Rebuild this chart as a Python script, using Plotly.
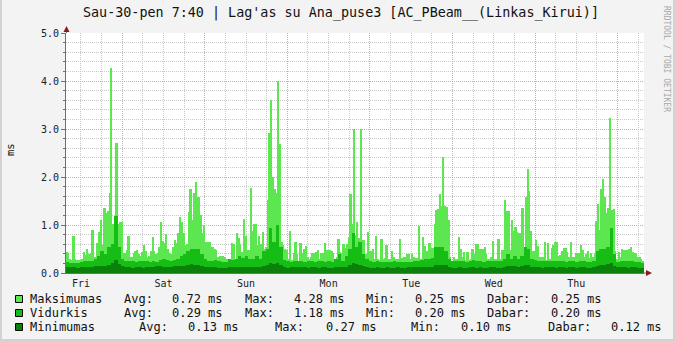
import numpy as np
import plotly.graph_objects as go

# ---------------- data ----------------
START_HOUR = 7 + 40 / 60          # graph starts Fri 07:40, one week span
SPAN_H = 168
days = ["Fri", "Sat", "Sun", "Mon", "Tue", "Wed", "Thu"]

MAX_STEP = 0.5   # hours per Maksimumas sample
HR_STEP = 1.0    # hours per Vidurkis / Minimumas sample

maksimumas = [
    0.44, 0.41, 0.30, 0.28, 0.77, 0.30, 0.27, 0.27, 0.28, 0.30,
    0.43, 0.37, 0.50, 0.40, 0.41, 0.90, 0.34, 0.33, 0.63, 0.86,
    1.10, 0.58, 1.35, 1.24, 1.30, 1.66, 4.28, 1.03, 1.03, 2.70,
    1.03, 1.07, 1.07, 0.41, 0.41, 0.48, 0.77, 0.34, 0.33, 0.41,
    0.45, 0.48, 0.40, 0.36, 0.44, 0.58, 0.45, 0.34, 0.35, 0.45,
    0.76, 0.45, 0.40, 0.41, 0.55, 1.07, 0.66, 0.62, 0.81, 0.50,
    0.41, 0.40, 0.55, 0.69, 0.63, 0.83, 1.17, 1.07, 0.83, 0.58,
    0.60, 1.28, 1.76, 1.10, 1.66, 1.90, 1.59, 1.59, 1.20, 0.83,
    1.00, 0.65, 0.65, 0.65, 0.55,
    0.55, 0.50, 0.48, 0.34, 0.36, 0.36, 0.36, 0.33, 0.29, 0.28,
    0.28, 0.63, 0.60, 0.30, 0.83, 0.72, 0.60, 0.44, 1.12, 0.78,
    0.47, 0.47, 1.78, 0.88, 1.03, 1.03, 0.58, 0.78, 0.60, 0.86,
    0.50, 0.55, 1.52, 2.91, 3.60, 2.00, 1.76, 1.67, 4.00, 2.69,
    0.65, 0.58, 0.50, 0.47, 0.29, 0.87, 0.28, 0.41, 0.65, 0.40,
    0.25, 0.63, 0.41, 0.51, 0.56, 0.34, 0.29, 0.33, 0.41, 0.41,
    0.44, 0.48, 0.29, 0.41, 0.41, 0.62, 0.47, 0.47, 0.47, 0.45,
    0.41, 0.29, 0.34, 0.71, 0.43, 0.41, 0.60, 0.53, 0.60, 0.76,
    1.64, 1.03, 3.00,
    0.79, 1.06, 0.72, 3.01, 0.69, 0.69, 0.40, 0.85, 0.45, 0.45,
    0.50, 0.30, 0.78, 0.29, 0.28, 0.71, 0.30, 0.31, 0.58, 0.29,
    0.30, 0.46, 0.34, 0.30, 0.29, 0.29, 0.71, 0.32, 0.33, 0.33,
    0.40, 0.40, 0.29, 0.40, 0.33, 0.31, 0.31, 0.97, 0.30, 0.76,
    0.56, 0.45, 0.45, 0.62, 0.53, 0.53, 1.03, 1.31, 1.33, 1.65,
    1.40, 2.42, 1.40, 1.38, 1.10, 0.34, 0.25, 0.34, 0.30, 0.30,
    0.76, 0.51, 0.34, 0.43, 0.27, 0.44, 0.27, 0.30, 0.51, 0.40,
    0.60, 0.60, 0.50, 0.50, 0.51, 0.55, 0.40, 0.30, 0.30, 0.34,
    0.67, 0.29, 0.29, 0.71,
    0.30, 0.48, 0.48, 1.52, 1.29, 1.29, 0.48, 1.10, 0.87, 0.95,
    0.86, 0.83, 0.83, 1.36, 0.55, 1.59, 2.17, 1.71, 0.88, 0.46,
    0.46, 0.69, 0.56, 0.34, 0.34, 0.33, 0.65, 0.27, 0.62, 0.30,
    0.53, 0.58, 0.65, 0.65, 0.36, 0.37, 0.46, 0.53, 0.53, 0.44,
    0.34, 0.65, 0.34, 0.34, 0.42, 0.41, 0.42, 0.58, 0.48, 0.34,
    0.40, 0.45, 0.31, 0.41, 0.33, 0.41, 1.08, 1.43, 0.90, 1.75,
    1.96, 1.59, 1.26, 1.36, 3.22, 1.31, 1.33, 0.45, 0.29, 0.44,
    0.34, 0.49, 0.48, 0.48, 0.48, 0.50, 0.55, 0.44, 0.42, 0.42,
    0.34, 0.34, 0.30, 0.25,
]

vidurkis = [
    0.22, 0.20, 0.20, 0.20, 0.22, 0.24, 0.25, 0.24, 0.30, 0.35,
    0.45, 0.40, 0.55, 0.60, 1.18, 0.55, 0.30, 0.25, 0.25, 0.24,
    0.22, 0.24, 0.25, 0.24, 0.22, 0.24, 0.22, 0.28, 0.30, 0.28,
    0.25, 0.28, 0.30, 0.35, 0.40, 0.45, 0.50, 0.50, 0.50, 0.40,
    0.30, 0.25,
    0.26, 0.27, 0.24, 0.22, 0.22, 0.30, 0.28, 0.30, 0.35, 0.32,
    0.35, 0.30, 0.30, 0.35, 0.30, 0.45, 0.50, 0.93, 0.65, 1.00,
    0.55, 0.28, 0.25, 0.22, 0.25, 0.25, 0.24, 0.22, 0.25, 0.24,
    0.22, 0.24, 0.25, 0.22, 0.25, 0.22, 0.30, 0.40, 0.25, 0.35,
    0.50, 0.83,
    0.55, 0.65, 0.40, 0.30, 0.25, 0.22, 0.24, 0.22, 0.22, 0.22,
    0.22, 0.24, 0.22, 0.22, 0.22, 0.22, 0.22, 0.25, 0.25, 0.28,
    0.30, 0.30, 0.32, 0.55, 0.55, 0.55, 0.45, 0.30, 0.24, 0.25,
    0.26, 0.24, 0.22, 0.25, 0.28, 0.25, 0.24, 0.22, 0.24, 0.24,
    0.25, 0.24,
    0.24, 0.30, 0.40, 0.30, 0.35, 0.30, 0.35, 0.55, 0.50, 0.30,
    0.28, 0.25, 0.25, 0.25, 0.24, 0.26, 0.25, 0.24, 0.25, 0.22,
    0.24, 0.25, 0.22, 0.24, 0.25, 0.22, 0.22, 0.24, 0.45, 0.50,
    0.50, 0.55, 0.93, 0.40, 0.22, 0.24, 0.25, 0.24, 0.24, 0.22,
    0.22, 0.20,
]

minimumas = [
    0.13, 0.12, 0.12, 0.11, 0.12, 0.13, 0.12, 0.13, 0.14, 0.14,
    0.15, 0.15, 0.16, 0.20, 0.27, 0.18, 0.14, 0.12, 0.12, 0.11,
    0.12, 0.12, 0.11, 0.12, 0.12, 0.13, 0.14, 0.14, 0.13, 0.12,
    0.13, 0.14, 0.14, 0.15, 0.15, 0.17, 0.18, 0.17, 0.16, 0.14,
    0.13, 0.12,
    0.12, 0.12, 0.11, 0.11, 0.10, 0.12, 0.12, 0.13, 0.13, 0.12,
    0.13, 0.12, 0.12, 0.13, 0.13, 0.15, 0.17, 0.20, 0.18, 0.20,
    0.16, 0.12, 0.11, 0.12, 0.12, 0.13, 0.12, 0.12, 0.11, 0.12,
    0.12, 0.11, 0.12, 0.12, 0.11, 0.11, 0.12, 0.13, 0.12, 0.13,
    0.16, 0.20,
    0.18, 0.17, 0.14, 0.12, 0.11, 0.11, 0.12, 0.11, 0.11, 0.12,
    0.11, 0.11, 0.12, 0.11, 0.11, 0.12, 0.12, 0.12, 0.13, 0.12,
    0.13, 0.13, 0.13, 0.16, 0.17, 0.17, 0.16, 0.13, 0.11, 0.11,
    0.12, 0.11, 0.11, 0.12, 0.12, 0.11, 0.12, 0.11, 0.11, 0.12,
    0.12, 0.11,
    0.11, 0.12, 0.15, 0.14, 0.14, 0.13, 0.14, 0.17, 0.16, 0.13,
    0.12, 0.12, 0.11, 0.12, 0.12, 0.12, 0.11, 0.12, 0.12, 0.11,
    0.12, 0.12, 0.11, 0.12, 0.12, 0.11, 0.11, 0.12, 0.15, 0.16,
    0.17, 0.18, 0.20, 0.15, 0.12, 0.12, 0.12, 0.11, 0.12, 0.12,
    0.11, 0.11,
]

series_names = ["Maksimumas", "Vidurkis", "Minimumas"]
stat_avg = ["0.72", "0.29", "0.13"]
stat_max = ["4.28", "1.18", "0.27"]
stat_min = ["0.25", "0.20", "0.10"]
stat_cur = ["0.25", "0.20", "0.12"]

title_text = "Sau-30-pen 7:40 | Lag'as su Ana_puse3 [AC_PBeam__(Linkas_Kirui)]"
y_label = "ms"
credit = "RRDTOOL / TOBI OETIKER"

assert len(maksimumas) == 336 and len(vidurkis) == 168 and len(minimumas) == 168

# ---------------- style ----------------
W, H = 675, 341
ML, MR, MT, MB = 66, 31, 33, 68
PW, PH = W - ML - MR, H - MT - MB
COLORS = ["#5CE650", "#15BD15", "#0B800B"]
BG = "#F3F3F3"
GRID = "#C8C8C8"
MGRID = "#DDA5A5"
AXIS = "#707070"
ARROW = "#8B1A1A"
FRAME = "#D2D2D2"
MONO = "DejaVu Sans Mono"
DASH = "1px,1px"


def px(X):
    return (X - ML) / PW


def py(Y):
    return (H - MB - Y) / PH


x_max = np.arange(len(maksimumas)) * MAX_STEP + MAX_STEP / 2
x_hr = np.arange(len(vidurkis)) * HR_STEP + HR_STEP / 2
noon0 = (12 - START_HOUR) % 24
midnight0 = (24 - START_HOUR) % 24

fig = go.Figure()
fig.add_bar(x=x_max, y=maksimumas, width=MAX_STEP, name=series_names[0],
            marker=dict(color=COLORS[0], line=dict(width=0)), xaxis="x", yaxis="y")
fig.add_bar(x=x_hr, y=vidurkis, width=HR_STEP, name=series_names[1],
            marker=dict(color=COLORS[1], line=dict(width=0)), xaxis="x", yaxis="y")
fig.add_bar(x=x_hr, y=minimumas, width=HR_STEP, name=series_names[2],
            marker=dict(color=COLORS[2], line=dict(width=0)), xaxis="x2", yaxis="y")

fig.update_layout(
    width=W, height=H,
    margin=dict(l=ML, r=MR, t=MT, b=MB, pad=0),
    paper_bgcolor=BG, plot_bgcolor="#FFFFFF",
    barmode="overlay", bargap=0, showlegend=False,
    font=dict(family=MONO, size=10, color="#222222"),
    xaxis=dict(
        range=[0, SPAN_H], tickmode="array",
        tickvals=[noon0 + 24 * i for i in range(len(days))], ticktext=days,
        showgrid=False, zeroline=False, showline=True, linecolor=AXIS, linewidth=1,
        ticks="", ticklabelstandoff=1,
        tickfont=dict(family=MONO, size=10, color="#222222"),
        minor=dict(tickmode="linear", tick0=noon0 - 12, dtick=6, showgrid=True,
                   gridcolor=GRID, griddash=DASH, gridwidth=1, ticks=""),
    ),
    xaxis2=dict(
        range=[0, SPAN_H], overlaying="x", anchor="y", side="bottom",
        tickmode="linear", tick0=midnight0, dtick=24,
        showgrid=True, gridcolor=MGRID, griddash=DASH, gridwidth=1,
        showticklabels=False, ticks="", zeroline=False, showline=False,
    ),
    yaxis=dict(
        range=[0, 5], tickmode="linear", tick0=0, dtick=1, tickformat=".1f",
        showgrid=True, gridcolor=MGRID, griddash=DASH, gridwidth=1,
        zeroline=False, showline=True, linecolor=AXIS, linewidth=1,
        ticks="outside", ticklen=4, tickcolor=AXIS, tickwidth=1,
        tickfont=dict(family=MONO, size=10, color="#222222"),
        minor=dict(tickmode="linear", tick0=0, dtick=0.2, showgrid=True,
                   gridcolor=GRID, griddash=DASH, gridwidth=1,
                   ticks="outside", ticklen=2, tickcolor=AXIS),
    ),
)

shapes = []
# outer frame (left / bottom / right edges)
shapes.append(dict(type="line", xref="paper", yref="paper",
                   x0=px(1), x1=px(1), y0=py(0), y1=py(H),
                   line=dict(color=FRAME, width=2)))
shapes.append(dict(type="line", xref="paper", yref="paper",
                   x0=px(0), x1=px(W), y0=py(H - 1), y1=py(H - 1),
                   line=dict(color=FRAME, width=2)))
shapes.append(dict(type="line", xref="paper", yref="paper",
                   x0=px(W - 1), x1=px(W - 1), y0=py(0), y1=py(H),
                   line=dict(color=FRAME, width=2)))
# axis arrows
shapes.append(dict(type="line", xref="paper", yref="paper",
                   x0=px(66.5), x1=px(66.5), y0=py(33), y1=py(29),
                   line=dict(color=AXIS, width=1)))
shapes.append(dict(type="path", xref="paper", yref="paper",
                   path=f"M {px(63.5)},{py(32)} L {px(69.5)},{py(32)} L {px(66.5)},{py(26)} Z",
                   fillcolor=ARROW, line=dict(width=0)))
shapes.append(dict(type="line", xref="paper", yref="paper",
                   x0=px(643), x1=px(647), y0=py(273), y1=py(273),
                   line=dict(color=AXIS, width=1)))
shapes.append(dict(type="path", xref="paper", yref="paper",
                   path=f"M {px(646)},{py(270)} L {px(646)},{py(276)} L {px(652)},{py(273)} Z",
                   fillcolor=ARROW, line=dict(width=0)))

annotations = []
annotations.append(dict(text=title_text, xref="paper", yref="paper",
                        x=px(341), y=py(13.5), xanchor="center", yanchor="middle",
                        showarrow=False, font=dict(family=MONO, size=13.4, color="#111111")))
annotations.append(dict(text=y_label, xref="paper", yref="paper",
                        x=px(10), y=py(150), xanchor="center", yanchor="middle",
                        textangle=-90, showarrow=False,
                        font=dict(family=MONO, size=10.5, color="#111111")))
annotations.append(dict(text=credit, xref="paper", yref="paper",
                        x=px(666), y=py(59), xanchor="center", yanchor="middle",
                        textangle=90, showarrow=False,
                        font=dict(family=MONO, size=8, color="#A8A8A8")))

row_y = [299, 313, 327]
cols_a = [30, 123.5, 172, 245, 293.5, 366, 415, 487, 550.5]
cols_b = [30, 138.5, 188, 275, 325.5, 411.5, 461, 548, 611]
for i, name in enumerate(series_names):
    cols = cols_b if i == 2 else cols_a
    pieces = [name, "Avg:", stat_avg[i] + " ms", "Max:", stat_max[i] + " ms",
              "Min:", stat_min[i] + " ms", "Dabar:", stat_cur[i] + " ms"]
    for cx, txt in zip(cols, pieces):
        annotations.append(dict(text=txt, xref="paper", yref="paper",
                                x=px(cx - 2), y=py(row_y[i]), xanchor="left", yanchor="middle",
                                showarrow=False,
                                font=dict(family=MONO, size=12, color="#111111")))
    shapes.append(dict(type="rect", xref="paper", yref="paper",
                       x0=px(15.5), x1=px(22.5), y0=py(row_y[i] + 3.5), y1=py(row_y[i] - 3.5),
                       fillcolor=COLORS[i], line=dict(color="#000000", width=1)))

fig.update_layout(shapes=shapes, annotations=annotations)
fig.write_html("out.html")
